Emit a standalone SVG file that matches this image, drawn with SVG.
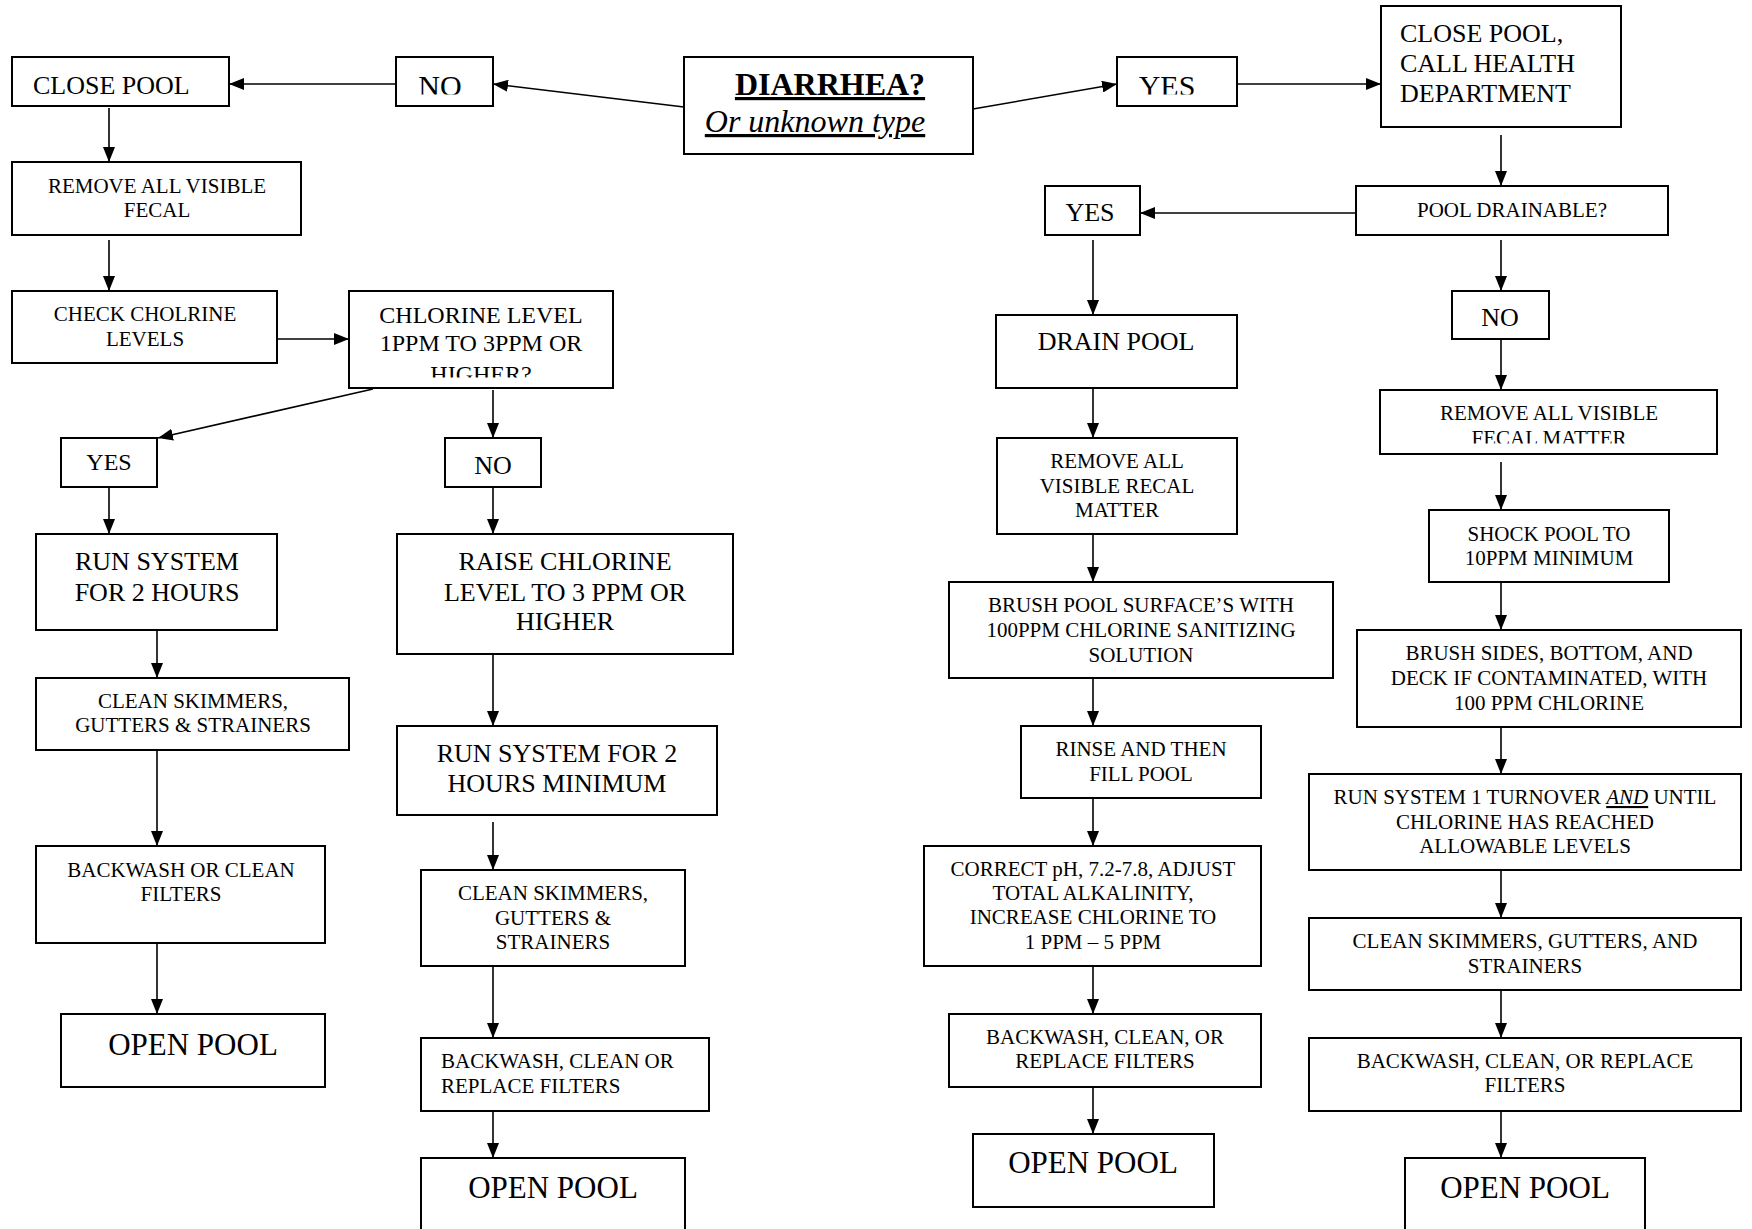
<svg xmlns="http://www.w3.org/2000/svg" width="1752" height="1229" viewBox="0 0 1752 1229">
<style>
rect.b{fill:#fff;stroke:#000;stroke-width:2}
text{font-family:"Liberation Serif","Times New Roman",serif;fill:#000}
.s{font-size:21px;text-anchor:middle}
.m{font-size:26px;text-anchor:middle}
.l{font-size:26px}
.o{font-size:31px;text-anchor:middle}
.c line{stroke:#000;stroke-width:1.6;marker-end:url(#ah)}
</style>
<defs>
<marker id="ah" markerUnits="userSpaceOnUse" markerWidth="15" markerHeight="12" refX="15" refY="6" orient="auto"><path d="M0,0 L15,6 L0,12 z" fill="#000"/></marker>
<clipPath id="cNo"><rect x="396" y="57" width="97" height="37.5"/></clipPath>
<clipPath id="cYes"><rect x="1117" y="57" width="120" height="37.5"/></clipPath>
<clipPath id="cHigh"><rect x="349" y="291" width="264" height="86.5"/></clipPath>
<clipPath id="cFecal"><rect x="1380" y="390" width="337" height="53.5"/></clipPath>
</defs>
<rect width="1752" height="1229" fill="#fff"/>

<g class="c" id="connectors">
<line x1="684" y1="107" x2="493" y2="84"/>
<line x1="396" y1="84" x2="229" y2="84"/>
<line x1="973" y1="109" x2="1117" y2="84"/>
<line x1="1237" y1="84" x2="1381" y2="84"/>
<line x1="109" y1="108" x2="109" y2="162"/>
<line x1="109" y1="240" x2="109" y2="291"/>
<line x1="277" y1="339" x2="349" y2="339"/>
<line x1="373" y1="389" x2="158" y2="438"/>
<line x1="493" y1="390" x2="493" y2="438"/>
<line x1="109" y1="487" x2="109" y2="534"/>
<line x1="157" y1="630" x2="157" y2="678"/>
<line x1="157" y1="750" x2="157" y2="846"/>
<line x1="157" y1="943" x2="157" y2="1014"/>
<line x1="493" y1="487" x2="493" y2="534"/>
<line x1="493" y1="654" x2="493" y2="726"/>
<line x1="493" y1="822" x2="493" y2="870"/>
<line x1="493" y1="966" x2="493" y2="1038"/>
<line x1="493" y1="1111" x2="493" y2="1158"/>
<line x1="1501" y1="135" x2="1501" y2="186"/>
<line x1="1356" y1="213" x2="1140" y2="213"/>
<line x1="1093" y1="240" x2="1093" y2="315"/>
<line x1="1501" y1="240" x2="1501" y2="291"/>
<line x1="1501" y1="339" x2="1501" y2="390"/>
<line x1="1093" y1="388" x2="1093" y2="438"/>
<line x1="1093" y1="534" x2="1093" y2="582"/>
<line x1="1093" y1="678" x2="1093" y2="726"/>
<line x1="1093" y1="798" x2="1093" y2="846"/>
<line x1="1093" y1="966" x2="1093" y2="1014"/>
<line x1="1093" y1="1087" x2="1093" y2="1134"/>
<line x1="1501" y1="462" x2="1501" y2="510"/>
<line x1="1501" y1="582" x2="1501" y2="630"/>
<line x1="1501" y1="727" x2="1501" y2="774"/>
<line x1="1501" y1="870" x2="1501" y2="918"/>
<line x1="1501" y1="990" x2="1501" y2="1038"/>
<line x1="1501" y1="1111" x2="1501" y2="1158"/>
</g>

<g id="n-diarrhea">
<rect class="b" x="684" y="57" width="289" height="97"/>
<text x="830" y="95" font-size="32" font-weight="bold" text-anchor="middle" text-decoration="underline">DIARRHEA?</text>
<text x="815" y="132" font-size="32" font-style="italic" text-anchor="middle" text-decoration="underline">Or unknown type</text>
</g>
<g id="n-no-top">
<rect class="b" x="396" y="57" width="97" height="49"/>
<text x="440" y="96" font-size="30" text-anchor="middle" clip-path="url(#cNo)">NO</text>
</g>
<g id="n-close-pool">
<rect class="b" x="12" y="57" width="217" height="49"/>
<text class="l" x="33" y="94">CLOSE POOL</text>
</g>
<g id="n-remove-fecal-left">
<rect class="b" x="12" y="162" width="289" height="73"/>
<text class="s" x="157" y="193">REMOVE ALL VISIBLE</text>
<text class="s" x="157" y="217">FECAL</text>
</g>
<g id="n-check">
<rect class="b" x="12" y="291" width="265" height="72"/>
<text class="s" x="145" y="321">CHECK CHOLRINE</text>
<text class="s" x="145" y="346">LEVELS</text>
</g>
<g id="n-chlorine-level">
<rect class="b" x="349" y="291" width="264" height="97"/>
<text x="481" y="323" font-size="24" text-anchor="middle">CHLORINE LEVEL</text>
<text x="481" y="351" font-size="24" text-anchor="middle">1PPM TO 3PPM OR</text>
<text x="481" y="382" font-size="24" text-anchor="middle" clip-path="url(#cHigh)">HIGHER?</text>
</g>
<g id="n-yes-left">
<rect class="b" x="61" y="438" width="96" height="49"/>
<text x="109" y="470" font-size="24" text-anchor="middle">YES</text>
</g>
<g id="n-no-mid">
<rect class="b" x="445" y="438" width="96" height="49"/>
<text x="493" y="474" font-size="26" text-anchor="middle">NO</text>
</g>
<g id="n-run-2h">
<rect class="b" x="36" y="534" width="241" height="96"/>
<text class="m" x="157" y="570">RUN SYSTEM</text>
<text class="m" x="157" y="601">FOR 2 HOURS</text>
</g>
<g id="n-raise">
<rect class="b" x="397" y="534" width="336" height="120"/>
<text class="m" x="565" y="570">RAISE CHLORINE</text>
<text class="m" x="565" y="601">LEVEL TO 3 PPM OR</text>
<text class="m" x="565" y="630">HIGHER</text>
</g>
<g id="n-clean-left">
<rect class="b" x="36" y="678" width="313" height="72"/>
<text class="s" x="193" y="708">CLEAN SKIMMERS,</text>
<text class="s" x="193" y="732">GUTTERS &amp; STRAINERS</text>
</g>
<g id="n-run-2h-min">
<rect class="b" x="397" y="726" width="320" height="89"/>
<text class="m" x="557" y="762">RUN SYSTEM FOR 2</text>
<text class="m" x="557" y="792">HOURS MINIMUM</text>
</g>
<g id="n-backwash-left">
<rect class="b" x="36" y="846" width="289" height="97"/>
<text class="s" x="181" y="877">BACKWASH OR CLEAN</text>
<text class="s" x="181" y="901">FILTERS</text>
</g>
<g id="n-open-left">
<rect class="b" x="61" y="1014" width="264" height="73"/>
<text class="o" x="193" y="1055">OPEN POOL</text>
</g>
<g id="n-clean-mid">
<rect class="b" x="421" y="870" width="264" height="96"/>
<text class="s" x="553" y="900">CLEAN SKIMMERS,</text>
<text class="s" x="553" y="925">GUTTERS &amp;</text>
<text class="s" x="553" y="949">STRAINERS</text>
</g>
<g id="n-backwash-mid">
<rect class="b" x="421" y="1038" width="288" height="73"/>
<text x="441" y="1068" font-size="21">BACKWASH, CLEAN OR</text>
<text x="441" y="1093" font-size="21">REPLACE FILTERS</text>
</g>
<g id="n-open-mid">
<rect class="b" x="421" y="1158" width="264" height="80"/>
<text class="o" x="553" y="1198">OPEN POOL</text>
</g>

<g id="n-yes-top">
<rect class="b" x="1117" y="57" width="120" height="49"/>
<text x="1167" y="96" font-size="30" text-anchor="middle" clip-path="url(#cYes)">YES</text>
</g>
<g id="n-close-call">
<rect class="b" x="1381" y="6" width="240" height="121"/>
<text class="l" x="1400" y="42">CLOSE POOL,</text>
<text class="l" x="1400" y="72">CALL HEALTH</text>
<text class="l" x="1400" y="102">DEPARTMENT</text>
</g>
<g id="n-drainable">
<rect class="b" x="1356" y="186" width="312" height="49"/>
<text class="s" x="1512" y="217">POOL DRAINABLE?</text>
</g>
<g id="n-yes-right">
<rect class="b" x="1045" y="186" width="95" height="49"/>
<text class="m" x="1090" y="221">YES</text>
</g>
<g id="n-no-right">
<rect class="b" x="1452" y="291" width="97" height="48"/>
<text class="m" x="1500" y="326">NO</text>
</g>
<g id="n-drain">
<rect class="b" x="996" y="315" width="241" height="73"/>
<text class="m" x="1116" y="350">DRAIN POOL</text>
</g>
<g id="n-remove-fecal-right">
<rect class="b" x="1380" y="390" width="337" height="64"/>
<text class="s" x="1549" y="420">REMOVE ALL VISIBLE</text>
<text class="s" x="1549" y="445" clip-path="url(#cFecal)">FECAL MATTER</text>
</g>
<g id="n-remove-recal">
<rect class="b" x="997" y="438" width="240" height="96"/>
<text class="s" x="1117" y="468">REMOVE ALL</text>
<text class="s" x="1117" y="493">VISIBLE RECAL</text>
<text class="s" x="1117" y="517">MATTER</text>
</g>
<g id="n-brush-pool">
<rect class="b" x="949" y="582" width="384" height="96"/>
<text class="s" x="1141" y="612">BRUSH POOL SURFACE’S WITH</text>
<text class="s" x="1141" y="637">100PPM CHLORINE SANITIZING</text>
<text class="s" x="1141" y="662">SOLUTION</text>
</g>
<g id="n-rinse">
<rect class="b" x="1021" y="726" width="240" height="72"/>
<text class="s" x="1141" y="756">RINSE AND THEN</text>
<text class="s" x="1141" y="781">FILL POOL</text>
</g>
<g id="n-correct">
<rect class="b" x="924" y="846" width="337" height="120"/>
<text class="s" x="1093" y="876">CORRECT pH, 7.2-7.8, ADJUST</text>
<text class="s" x="1093" y="900">TOTAL ALKALINITY,</text>
<text class="s" x="1093" y="924">INCREASE CHLORINE TO</text>
<text class="s" x="1093" y="949">1 PPM – 5 PPM</text>
</g>
<g id="n-backwash-rm">
<rect class="b" x="949" y="1014" width="312" height="73"/>
<text class="s" x="1105" y="1044">BACKWASH, CLEAN, OR</text>
<text class="s" x="1105" y="1068">REPLACE FILTERS</text>
</g>
<g id="n-open-rm">
<rect class="b" x="973" y="1134" width="241" height="73"/>
<text class="o" x="1093" y="1173">OPEN POOL</text>
</g>
<g id="n-shock">
<rect class="b" x="1429" y="510" width="240" height="72"/>
<text class="s" x="1549" y="541">SHOCK POOL TO</text>
<text class="s" x="1549" y="565">10PPM MINIMUM</text>
</g>
<g id="n-brush-sides">
<rect class="b" x="1357" y="630" width="384" height="97"/>
<text class="s" x="1549" y="660">BRUSH SIDES, BOTTOM, AND</text>
<text class="s" x="1549" y="685">DECK IF CONTAMINATED, WITH</text>
<text class="s" x="1549" y="710">100 PPM CHLORINE</text>
</g>
<g id="n-run-turnover">
<rect class="b" x="1309" y="774" width="432" height="96"/>
<text class="s" x="1525" y="804">RUN SYSTEM 1 TURNOVER <tspan font-style="italic" text-decoration="underline">AND</tspan> UNTIL</text>
<text class="s" x="1525" y="829">CHLORINE HAS REACHED</text>
<text class="s" x="1525" y="853">ALLOWABLE LEVELS</text>
</g>
<g id="n-clean-right">
<rect class="b" x="1309" y="918" width="432" height="72"/>
<text class="s" x="1525" y="948">CLEAN SKIMMERS, GUTTERS, AND</text>
<text class="s" x="1525" y="973">STRAINERS</text>
</g>
<g id="n-backwash-right">
<rect class="b" x="1309" y="1038" width="432" height="73"/>
<text class="s" x="1525" y="1068">BACKWASH, CLEAN, OR REPLACE</text>
<text class="s" x="1525" y="1092">FILTERS</text>
</g>
<g id="n-open-right">
<rect class="b" x="1405" y="1158" width="240" height="80"/>
<text class="o" x="1525" y="1198">OPEN POOL</text>
</g>
</svg>
